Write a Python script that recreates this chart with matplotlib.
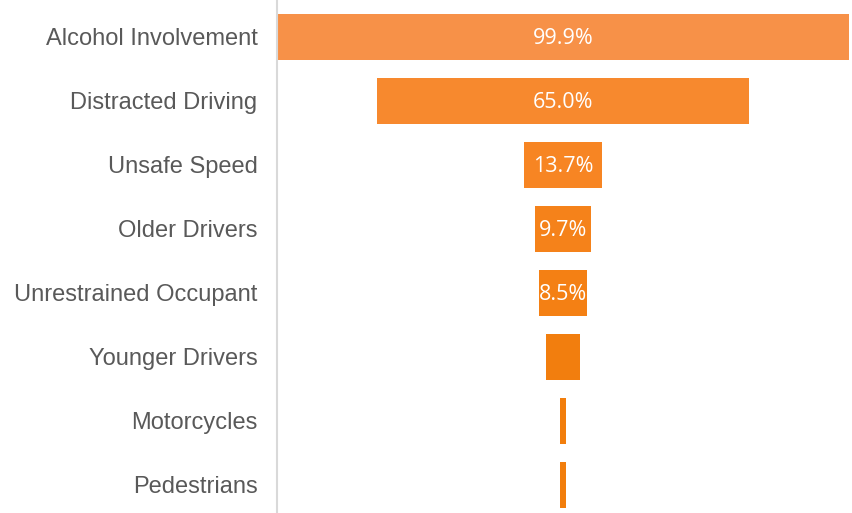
import matplotlib
matplotlib.use('Agg')
import matplotlib.pyplot as plt

# data
categories = ['Alcohol Involvement', 'Distracted Driving', 'Unsafe Speed', 'Older Drivers',
              'Unrestrained Occupant', 'Younger Drivers', 'Motorcycles', 'Pedestrians']
values = [99.9, 65.0, 13.7, 9.7, 8.5, 5.9, 1.1, 1.1]
labels = ['99.9%', '65.0%', '13.7%', '9.7%', '8.5%', '', '', '']

colors = ['#F79148', '#F7892E', '#F78523', '#F5821A', '#F48014', '#F27E0E', '#F27E0C', '#F27E0C']

fig = plt.figure(figsize=(8.53, 5.13), dpi=100)
ax = fig.add_axes([277/853, 0, (851-277)/853, 1])

ypos = range(len(categories))
# funnel: bars centred on zero
ax.barh(ypos, values, left=[-v/2 for v in values], height=0.71, color=colors)

for y, v, lab in zip(ypos, values, labels):
    if lab:
        ax.text(0, y + 0.03, lab, ha='center', va='center', color='white',
                fontsize=15.5, family='Open Sans')

ax.set_xlim(-50.05, 50.35)
ax.set_ylim(7.4375, -0.578)
ax.set_yticks(list(ypos))
ax.set_yticklabels(categories, fontsize=17, color='#595959', family=['Liberation Sans', 'DejaVu Sans'])
ax.tick_params(axis='y', length=0, pad=14)
ax.set_xticks([])

for s in ['top', 'right', 'bottom']:
    ax.spines[s].set_visible(False)
ax.spines['left'].set_color('#D9D9D9')
ax.spines['left'].set_linewidth(1.5)

plt.savefig('out.png', dpi=100)
